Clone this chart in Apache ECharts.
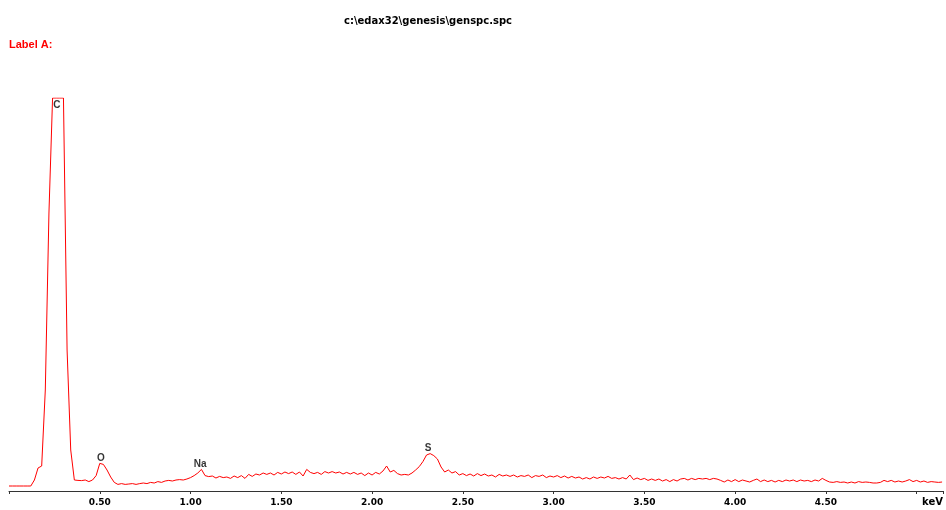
<!DOCTYPE html>
<html>
<head>
<meta charset="utf-8">
<script src="https://cdn.jsdelivr.net/npm/echarts@6/dist/echarts.min.js"></script>
<style>
html,body{margin:0;padding:0;background:#fff;}
#chart{width:946px;height:510px;}
</style>
</head>
<body>
<div id="chart"></div>
<script>
// Energy step of the spectrum channels (keV) and counts per channel
var energyStep = 0.02;
var counts = [
  0,0,0,0,0,0,0,30,90,100,
  480,1365,1940,1940,1940,1940,680,180,30,28,
  27,30,22,30,52,113,108,80,45,18,
  8,12,8,10,12,8,12,15,12,18,
  15,22,18,25,28,25,30,32,30,35,
  42,52,65,83,52,47,50,40,48,42,
  45,38,50,42,52,38,58,48,60,55,
  65,58,65,55,68,60,70,62,70,58,
  70,50,83,68,62,68,58,72,65,72,
  65,70,60,68,60,68,58,65,52,65,
  55,68,60,75,100,70,78,62,55,58,
  55,65,80,97,122,155,162,152,135,95,
  70,80,65,72,55,62,52,60,50,62,
  52,60,50,55,45,58,50,55,48,55,
  45,52,48,55,42,52,48,55,42,50,
  45,52,42,50,40,48,40,45,35,42,
  35,45,38,45,40,48,38,42,35,42,
  35,55,32,40,32,38,28,35,28,35,
  25,32,22,32,25,35,38,30,38,32,
  38,35,38,32,38,35,28,20,30,22,
  32,22,30,25,20,28,35,22,30,22,
  28,20,28,22,30,25,30,22,30,25,
  28,22,30,25,38,28,20,18,22,18,
  20,15,20,15,22,18,20,18,15,15,
  18,28,22,28,20,25,20,25,32,22,
  28,20,25,18,22,20,18,20
];
// Element peak labels: name, energy (keV), label height (counts)
var elementNames = ["C", "O", "Na", "S"];
var elementEnergies = [0.264, 0.506, 1.053, 2.309];
var elementHeights = [1905, 140, 108, 190];
// Axis tick settings
var tickInterval = 0.5;
var axisMin = 0;
var axisMax = 5.145;

var spectrum = counts.map(function (c, i) { return [+(i * energyStep).toFixed(3), c]; });
var labelData = elementNames.map(function (n, i) {
  return { name: n, value: [elementEnergies[i], elementHeights[i]] };
});

var chart = echarts.init(document.getElementById('chart'), null, { renderer: 'canvas' });
chart.setOption({
  animation: false,
  backgroundColor: '#ffffff',
  title: {
    text: 'c:\\edax32\\genesis\\genspc.spc',
    left: 423, top: 11, textAlign: 'center',
    textStyle: { fontFamily: 'DejaVu Sans', fontSize: 10, fontWeight: 'bold', color: '#000' }
  },
  graphic: [
    { type: 'text', left: 9, top: 39,
      style: { text: 'Label A:', fill: '#ff0000', font: 'bold 11px "Liberation Sans"' } },
    { type: 'text', left: 922, top: 497,
      style: { text: 'keV', fill: '#000', font: 'bold 10px "DejaVu Sans"' } }
  ],
  grid: { left: 9, right: 1, top: 98, bottom: 19, containLabel: false },
  xAxis: {
    type: 'value', min: axisMin, max: axisMax, interval: tickInterval,
    axisLine: { onZero: false, lineStyle: { color: '#333', width: 1 } },
    axisTick: { show: true, length: 3, lineStyle: { color: '#333' } },
    splitLine: { show: false },
    axisLabel: {
      margin: 7, color: '#000', fontFamily: 'DejaVu Sans', fontSize: 9, fontWeight: 'bold',
      formatter: function (v) {
        var r = Math.round(v / tickInterval) * tickInterval;
        if (Math.abs(r - v) > 1e-6 || v < 0.25 || v > 4.75) return '';
        return v.toFixed(2);
      }
    }
  },
  yAxis: { type: 'value', min: -25, max: 1940, show: false, splitLine: { show: false } },
  series: [
    {
      type: 'line', data: spectrum, showSymbol: false, symbol: 'none',
      lineStyle: { color: '#ff0000', width: 1 }, silent: true, clip: true
    },
    {
      type: 'scatter', data: labelData, symbolSize: 0, silent: true,
      label: {
        show: true, position: 'inside', formatter: '{b}',
        color: '#000', fontFamily: 'Liberation Sans', fontSize: 10, fontWeight: 'bold'
      }
    }
  ]
});
</script>
</body>
</html>
